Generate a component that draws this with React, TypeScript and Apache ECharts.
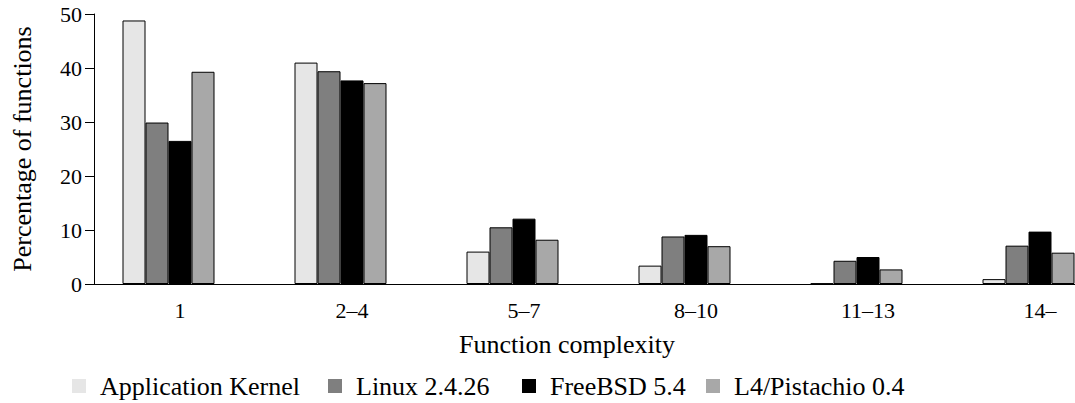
import React, { useEffect, useRef } from "react";
import * as echarts from "echarts";

const categories = ["1", "2–4", "5–7", "8–10", "11–13", "14–"];
const appKernel = [48.8, 41.0, 6.0, 3.4, 0.1, 0.9];
const linux = [29.9, 39.4, 10.5, 8.8, 4.3, 7.1];
const freebsd = [26.5, 37.7, 12.1, 9.1, 5.0, 9.7];
const l4 = [39.3, 37.2, 8.2, 7.0, 2.7, 5.8];
const seriesNames = ["Application Kernel", "Linux 2.4.26", "FreeBSD 5.4", "L4/Pistachio 0.4"];
const seriesColors = ["#e6e6e6", "#7f7f7f", "#000000", "#a8a8a8"];
const yTicks = { min: 0, max: 50, interval: 10 };

const FONT = "Liberation Serif";

export default function App() {
  const ref = useRef<HTMLDivElement>(null);
  useEffect(() => {
    if (!ref.current) return;
    const chart = echarts.init(ref.current, null, { renderer: "svg" });
    const datasets = [appKernel, linux, freebsd, l4];
    const legendLefts = [67, 323, 517, 701];
    chart.setOption({
      animation: false,
      grid: { left: 94, top: 14, width: 1032, height: 270 },
      legend: seriesNames.map((n, i) => ({
        data: [n],
        left: legendLefts[i],
        top: 368,
        itemWidth: 14,
        itemHeight: 14,
        icon: "rect",
        itemStyle: { borderWidth: 0 },
        textStyle: { fontFamily: FONT, fontSize: 26, color: "#000", padding: [0, 0, 0, 9] },
      })),
      xAxis: {
        type: "category",
        data: categories,
        axisLine: { lineStyle: { color: "#000", width: 1 } },
        axisTick: { alignWithLabel: true, length: 7, lineStyle: { color: "#000" } },
        axisLabel: { fontFamily: FONT, fontSize: 22, color: "#000", margin: 15 },
      },
      yAxis: {
        type: "value",
        min: yTicks.min,
        max: yTicks.max,
        interval: yTicks.interval,
        name: "Percentage of functions",
        nameLocation: "middle",
        nameGap: 59,
        nameTextStyle: { fontFamily: FONT, fontSize: 26, color: "#000" },
        axisLine: { show: true, lineStyle: { color: "#000", width: 1 } },
        axisTick: { show: true, length: 9, lineStyle: { color: "#000" } },
        splitLine: { show: false },
        axisLabel: { fontFamily: FONT, fontSize: 22, color: "#000", margin: 12 },
      },
      graphic: [
        {
          type: "text",
          x: 567,
          y: 344,
          style: {
            text: "Function complexity",
            fontFamily: FONT,
            fontSize: 26,
            fill: "#000",
            align: "center",
            verticalAlign: "middle",
          },
        },
      ],
      series: [
        ...datasets.map((d, i) => ({
          name: seriesNames[i],
          type: "bar",
          data: d,
          barWidth: 23,
          barGap: "0%",
          itemStyle: { color: seriesColors[i], borderColor: "#000", borderWidth: 1 },
        })),
        {
          name: "spacer",
          type: "bar",
          data: categories.map(() => null),
          barWidth: 23,
          barGap: "0%",
          itemStyle: { color: "transparent" },
        },
      ],
    });
    return () => chart.dispose();
  }, []);
  return (
    <div
      style={{
        position: "absolute",
        left: 0,
        top: 0,
        width: 1075,
        height: 403,
        overflow: "hidden",
        background: "#fff",
      }}
    >
      <div ref={ref} style={{ width: 1140, height: 403 }} />
    </div>
  );
}
